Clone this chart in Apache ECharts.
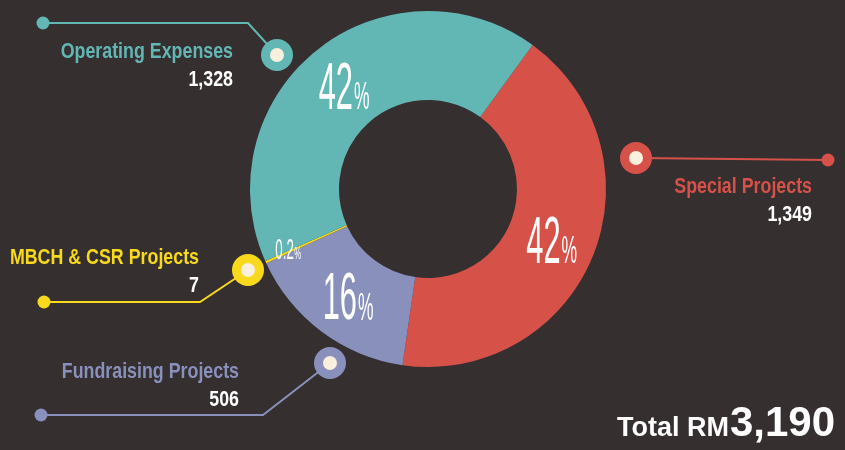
<!DOCTYPE html>
<html>
<head>
<meta charset="utf-8">
<script src="https://cdn.jsdelivr.net/npm/echarts@6/dist/echarts.min.js"></script>
<style>
  html, body { margin: 0; padding: 0; background: #352f30; }
  #main { width: 845px; height: 450px; }
</style>
</head>
<body>
<div id="main"></div>
<script>
// data
const names = ['Special Projects', 'Fundraising Projects', 'MBCH & CSR Projects', 'Operating Expenses'];
const values = [1349, 506, 7, 1328];

// styles / layout
const colors = ['#d65249', '#8890bb', '#f8d91c', '#62b7b5'];
const cream = '#f9efdd';
const center = [428, 189];
const radius = [89, 178];
const startAngle = 54;   // echarts degrees, counter-clockwise from 3 o'clock
// callouts: text anchor (right edge, cap top), marker centre, line points
const callouts = [
  { text: [812, 177], marker: [636, 158], line: [[636, 158], [828, 160]] },
  { text: [239, 362], marker: [330, 363], line: [[330, 363], [263, 415], [41, 415]] },
  { text: [199, 248], marker: [248, 270], line: [[248, 270], [200, 302], [44, 302]] },
  { text: [233, 42],  marker: [277, 55],  line: [[277, 55], [248, 23], [43, 23]] }
];
const labelFont = 'Liberation Sans, Arial, sans-serif';

const total = values.reduce((a, b) => a + b, 0);
const pct = v => {
  const p = v / total * 100;
  return p < 1 ? p.toFixed(1) : Math.round(p).toString();
};

let myChart = echarts.init(document.getElementById('main'));

const graphics = [];
// callout lines, dots, markers and texts
callouts.forEach((c, i) => {
  const end = c.line[c.line.length - 1];
  graphics.push({ type: 'polyline', z: 99, shape: { points: c.line }, style: { stroke: colors[i], lineWidth: 2, fill: null } });
  graphics.push({ type: 'circle', z: 100, shape: { cx: end[0], cy: end[1], r: 6.5 }, style: { fill: colors[i] } });
  graphics.push({ type: 'circle', z: 100, shape: { cx: c.marker[0], cy: c.marker[1], r: 16 }, style: { fill: colors[i] } });
  graphics.push({ type: 'circle', z: 101, shape: { cx: c.marker[0], cy: c.marker[1], r: 7 }, style: { fill: cream } });
  graphics.push({
    type: 'text', z: 102, x: c.text[0], y: c.text[1] - 1, scaleX: 0.81,
    style: { text: names[i], fill: colors[i], font: 'bold 22px ' + labelFont, align: 'right', verticalAlign: 'top' }
  });
  graphics.push({
    type: 'text', z: 102, x: c.text[0], y: c.text[1] + 27, scaleX: 0.81,
    style: { text: values[i].toLocaleString('en-US'), fill: '#fff', font: 'bold 22px ' + labelFont, align: 'right', verticalAlign: 'top' }
  });
});

// percentage labels in the ring, placed at each slice's mid angle
let acc = 0;
values.forEach((v, i) => {
  const a0 = 90 - startAngle + acc / total * 360;
  acc += v;
  const a1 = 90 - startAngle + acc / total * 360;
  const mid = (a0 + a1) / 2 * Math.PI / 180;
  const r = (radius[0] + radius[1]) / 2;
  const small = v / total < 0.01;
  const x = center[0] + r * Math.sin(mid) + (small ? -18 : 0);
  const y = center[1] - r * Math.cos(mid) + (small ? 7 : 5);
  graphics.push({
    type: 'text', z: 50, x: x, y: y, scaleX: 0.46,
    style: {
      text: small ? '{q|' + pct(v) + '}{r|%}' : '{p|' + pct(v) + '}{s|%}',
      align: 'center',
      verticalAlign: 'middle',
      rich: {
        p: { fontFamily: labelFont, fontSize: 67, fill: '#fff', lineHeight: 67, verticalAlign: 'bottom' },
        s: { fontFamily: labelFont, fontSize: 38, fill: '#fff', lineHeight: 67, verticalAlign: 'bottom', padding: [0, 0, 6, 2] },
        q: { fontFamily: labelFont, fontSize: 29, fill: '#fff', lineHeight: 29, verticalAlign: 'bottom' },
        r: { fontFamily: labelFont, fontSize: 17, fill: '#fff', lineHeight: 29, verticalAlign: 'bottom', padding: [0, 0, 3, 1] }
      }
    }
  });
});

myChart.setOption({
  backgroundColor: '#352f30',
  animation: false,
  title: {
    text: '{a|Total RM}{b|' + total.toLocaleString('en-US') + '}',
    right: 5,
    bottom: 2,
    textStyle: {
      rich: {
        a: { fontFamily: labelFont, fontWeight: 'bold', fontSize: 27, color: '#fff', verticalAlign: 'bottom', lineHeight: 44, padding: [0, 1, 3, 0] },
        b: { fontFamily: labelFont, fontWeight: 'bold', fontSize: 42, color: '#fff', verticalAlign: 'bottom', lineHeight: 44 }
      }
    }
  },
  graphic: graphics,
  series: [
    {
      type: 'pie',
      center: center,
      radius: radius,
      startAngle: startAngle,
      silent: true,
      avoidLabelOverlap: false,
      itemStyle: { borderWidth: 0 },
      label: { show: false },
      labelLine: { show: false },
      data: values.map((v, i) => ({
        name: names[i],
        value: v,
        itemStyle: { color: colors[i] }
      }))
    }
  ]
});
</script>
</body>
</html>
